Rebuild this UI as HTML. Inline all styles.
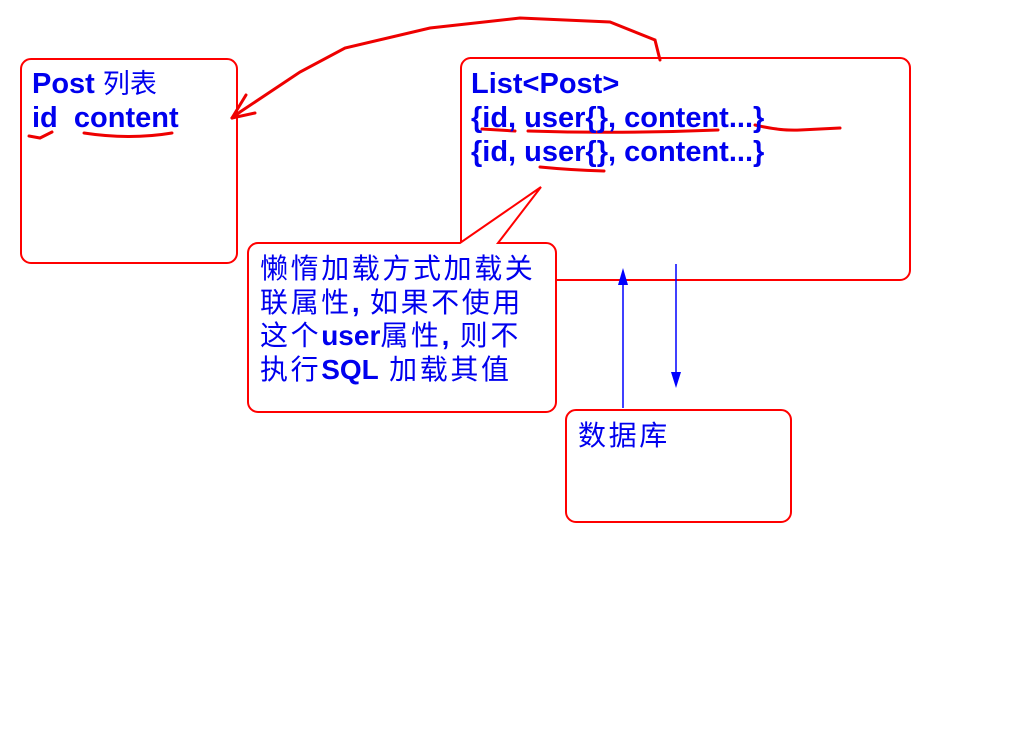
<!DOCTYPE html>
<html><head><meta charset="utf-8"><style>
body{margin:0;width:1024px;height:738px;background:#fff;position:relative;overflow:hidden;font-family:"Liberation Sans","Noto Sans CJK SC",sans-serif;}
.t{position:absolute;color:#0000ee;white-space:nowrap;}
.b{font-weight:bold;font-size:29px;line-height:34px;}
.c{font-size:28px;line-height:33.7px;letter-spacing:2.6px;}
.c b{letter-spacing:0;}
</style></head><body>
<svg width="1024" height="738" style="position:absolute;left:0;top:0">
<rect x="21" y="59" width="216" height="204" rx="10" fill="none" stroke="#f00" stroke-width="2"/>
<path d="M470 58 H900 a10 10 0 0 1 10 10 V270 a10 10 0 0 1 -10 10 H556 M461 242 V68 a10 10 0 0 1 9 -10" fill="none" stroke="#f00" stroke-width="2"/>
<path d="M258 243 H460 L541 187 L498 243 H546 a10 10 0 0 1 10 10 V402 a10 10 0 0 1 -10 10 H258 a10 10 0 0 1 -10 -10 V253 a10 10 0 0 1 10 -10 Z" fill="#fff" stroke="#f00" stroke-width="2"/>
<rect x="566" y="410" width="225" height="112" rx="10" fill="none" stroke="#f00" stroke-width="2"/>
<line x1="623" y1="408" x2="623" y2="272" stroke="#00f" stroke-width="1.5"/>
<path d="M618 285 L623 268 L628 285 Z" fill="#00f"/>
<line x1="676" y1="264" x2="676" y2="384" stroke="#00f" stroke-width="1.5"/>
<path d="M671 372 L676 388 L681 372 Z" fill="#00f"/>
<g fill="none" stroke="#e00" stroke-width="3" stroke-linecap="round">
<path d="M660 60 L655 40 L610 22 L520 18 L430 28 L345 48 L300 72 L240 112 L232 118"/>
<path d="M232 118 L246 95 M232 118 L255 113"/>
<path d="M29 136 L40 138 L52 132"/>
<path d="M84 133 Q130 140 172 133"/>
<path d="M482 129 L515 131"/>
<path d="M528 131 Q620 134 718 130"/>
<path d="M755 125 Q780 131 800 130 L840 128"/>
<path d="M540 167 Q570 170 604 171"/>
</g>
</svg>
<div class="t b" style="left:32px;top:67px">Post <span style="font-weight:normal;font-size:27px">列表</span></div>
<div class="t b" style="left:32px;top:101px">id&nbsp; content</div>
<div class="t b" style="left:471px;top:67px">List&lt;Post&gt;</div>
<div class="t b" style="left:471px;top:101px">{id, user{}, content...}</div>
<div class="t b" style="left:471px;top:135px">{id, user{}, content...}</div>
<div class="t c" style="left:260px;top:252px">懒惰加载方式加载关<br>联属性<b>,</b> 如果不使用<br>这个<b>user</b>属性<b>,</b> 则不<br>执行<b>SQL</b> 加载其值</div>
<div class="t c" style="left:578px;top:419px">数据库</div>
</body></html>
